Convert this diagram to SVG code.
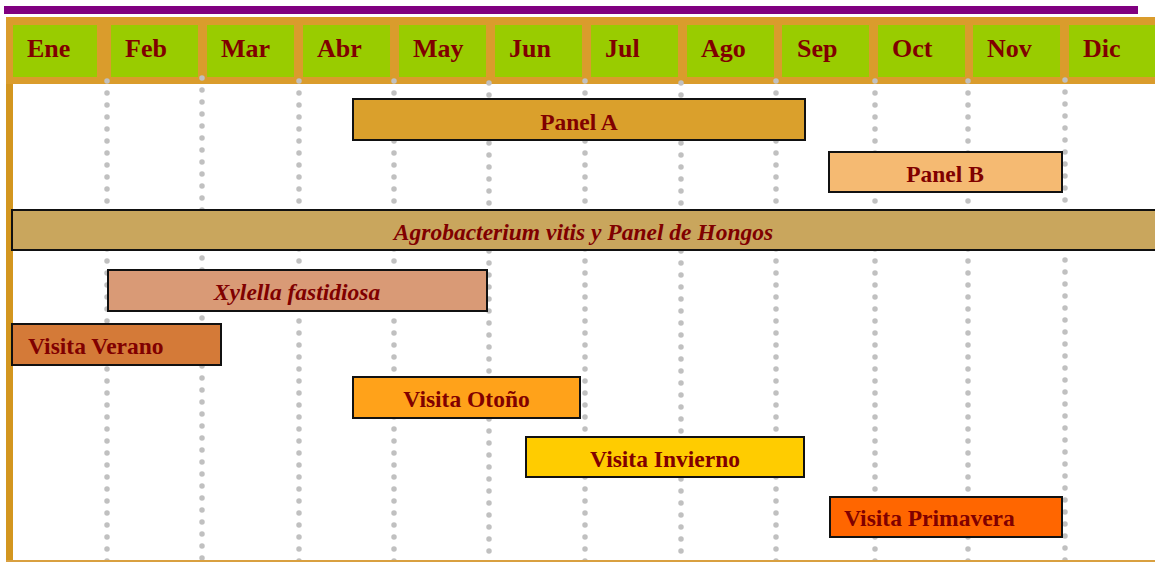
<svg xmlns="http://www.w3.org/2000/svg" width="1155" height="562" viewBox="0 0 1155 562">
<style>
.mh{font-family:"Liberation Serif","Times New Roman",serif;font-weight:bold;font-size:26px;fill:#800000}
.bt{font-family:"Liberation Serif","Times New Roman",serif;font-weight:bold;font-size:23.5px;fill:#800000}
.it{font-style:italic}
.cell{fill:#99CC00}
.bar{stroke:#111;stroke-width:2}
.grid line{stroke:#C0C0C0;stroke-width:5.5;stroke-dasharray:0 12;stroke-linecap:round}
</style>
<rect width="1155" height="562" fill="#FFFFFF"/>
<rect x="4" y="6" width="1134" height="8" fill="#800080"/>
<g id="header">
<rect x="6" y="17" width="1149" height="67" fill="#DA9C2C"/>
<rect class="cell" x="13" y="25" width="84" height="52"/>
<rect class="cell" x="111" y="25" width="87" height="52"/>
<rect class="cell" x="207" y="25" width="87" height="52"/>
<rect class="cell" x="303" y="25" width="87" height="52"/>
<rect class="cell" x="399" y="25" width="87" height="52"/>
<rect class="cell" x="495" y="25" width="87" height="52"/>
<rect class="cell" x="591" y="25" width="87" height="52"/>
<rect class="cell" x="687" y="25" width="87" height="52"/>
<rect class="cell" x="782" y="25" width="87" height="52"/>
<rect class="cell" x="878" y="25" width="87" height="52"/>
<rect class="cell" x="973" y="25" width="87" height="52"/>
<rect class="cell" x="1069" y="25" width="86" height="52"/>
<text class="mh" x="27" y="57">Ene</text>
<text class="mh" x="125" y="57">Feb</text>
<text class="mh" x="221" y="57">Mar</text>
<text class="mh" x="317" y="57">Abr</text>
<text class="mh" x="413" y="57">May</text>
<text class="mh" x="509" y="57">Jun</text>
<text class="mh" x="605" y="57">Jul</text>
<text class="mh" x="701" y="57">Ago</text>
<text class="mh" x="797" y="57">Sep</text>
<text class="mh" x="892" y="57">Oct</text>
<text class="mh" x="987" y="57">Nov</text>
<text class="mh" x="1083" y="57">Dic</text>
</g>
<rect x="6" y="84" width="7" height="477" fill="#D3961F"/>
<g id="connectors" class="grid">
<line x1="107" y1="81" x2="107" y2="562"/>
<line x1="202" y1="78" x2="202" y2="562"/>
<line x1="299" y1="81" x2="299" y2="562"/>
<line x1="394" y1="81" x2="394" y2="562"/>
<line x1="489" y1="83" x2="489" y2="562"/>
<line x1="585" y1="81" x2="585" y2="562"/>
<line x1="681" y1="83" x2="681" y2="562"/>
<line x1="776" y1="81" x2="776" y2="562"/>
<line x1="875" y1="81" x2="875" y2="562"/>
<line x1="968" y1="81" x2="968" y2="562"/>
<line x1="1065" y1="80" x2="1065" y2="562"/>
</g>
<g id="panel-a"><rect class="bar" x="353" y="99" width="452" height="41" fill="#DAA02C"/><text class="bt" x="579" y="130" text-anchor="middle">Panel A</text></g>
<g id="panel-b"><rect class="bar" x="829" y="152" width="233" height="40" fill="#F5BA72"/><text class="bt" x="945" y="182" text-anchor="middle">Panel B</text></g>
<g id="agrobacterium"><rect class="bar" x="12" y="210" width="1146" height="40" fill="#C9A65D"/><text class="bt it" x="583.5" y="240" text-anchor="middle">Agrobacterium vitis y Panel de Hongos</text></g>
<g id="xylella"><rect class="bar" x="108" y="270" width="379" height="41" fill="#D99A76"/><text class="bt it" x="297" y="300" text-anchor="middle">Xylella fastidiosa</text></g>
<g id="visita-verano"><rect class="bar" x="12" y="324" width="209" height="41" fill="#D47A38"/><text class="bt" x="28" y="354">Visita Verano</text></g>
<g id="visita-otono"><rect class="bar" x="353" y="377" width="227" height="41" fill="#FFA21A"/><text class="bt" x="466.5" y="407" text-anchor="middle">Visita Otoño</text></g>
<g id="visita-invierno"><rect class="bar" x="526" y="437" width="278" height="40" fill="#FFCC00"/><text class="bt" x="665" y="467" text-anchor="middle">Visita Invierno</text></g>
<g id="visita-primavera"><rect class="bar" x="830" y="497" width="232" height="40" fill="#FF6600"/><text class="bt" x="844" y="526">Visita Primavera</text></g>
<rect x="6" y="560" width="1149" height="2" fill="#D9A040"/>
</svg>
